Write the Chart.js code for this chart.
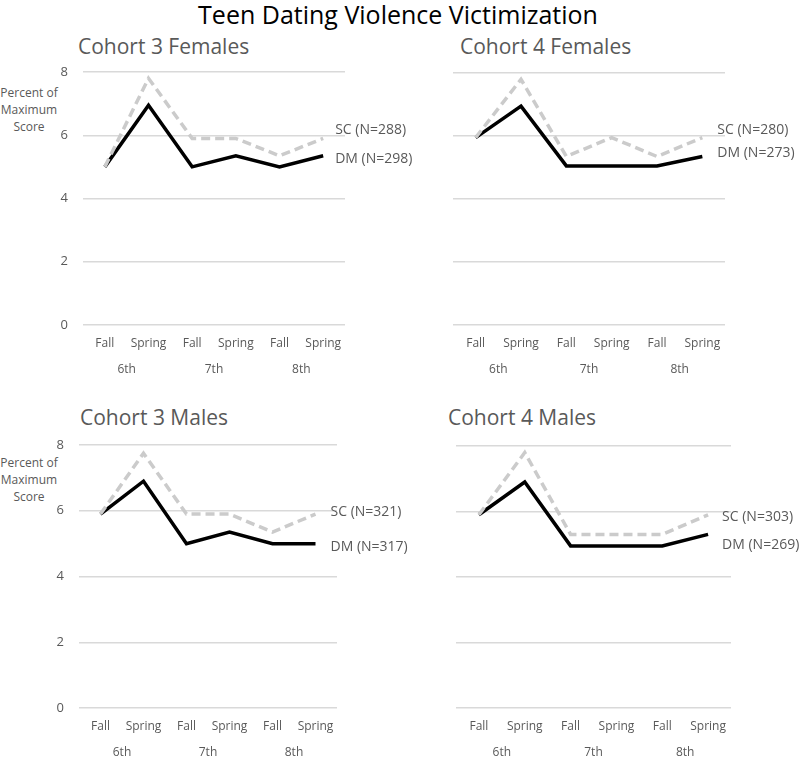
<!DOCTYPE html>
<html lang="en">
<head>
<meta charset="UTF-8">
<title>Teen Dating Violence Victimization</title>
<script src="https://cdn.jsdelivr.net/npm/chart.js"></script>
<style>
  body { margin: 0; background: #fff; font-family: "Open Sans", sans-serif; }
  #wrap { position: relative; width: 800px; height: 768px; overflow: hidden; }
  #wrap canvas { position: absolute; }
  .main-title { position: absolute; left: 0; top: 0; width: 796px; text-align: center; font-size: 25px; color: #000; line-height: 28px; }
  .sub { position: absolute; font-size: 21px; color: #595959; line-height: 24px; white-space: nowrap; }
  .ylab { position: absolute; left: 0; width: 58px; text-align: center; font-size: 12px; line-height: 17px; color: #595959; }
</style>
</head>
<body>
<div id="wrap">
  <div class="main-title">Teen Dating Violence Victimization</div>
  <div class="sub" style="left:78px;top:34px">Cohort 3 Females</div>
  <div class="sub" style="left:460px;top:34px">Cohort 4 Females</div>
  <div class="sub" style="left:80px;top:405px">Cohort 3 Males</div>
  <div class="sub" style="left:448px;top:405px">Cohort 4 Males</div>
  <div class="ylab" style="top:84px">Percent of<br>Maximum<br>Score</div>
  <div class="ylab" style="top:454px">Percent of<br>Maximum<br>Score</div>
  <canvas id="c3f" width="420" height="355" style="left:0;top:30px"></canvas>
  <canvas id="c4f" width="400" height="355" style="left:400px;top:30px"></canvas>
  <canvas id="c3m" width="420" height="368" style="left:0;top:400px"></canvas>
  <canvas id="c4m" width="400" height="368" style="left:400px;top:400px"></canvas>
</div>
<script>
// data
const periods = ['Fall', 'Spring', 'Fall', 'Spring', 'Fall', 'Spring'];
const grades = ['6th', '7th', '8th'];
const yTicks = [0, 2, 4, 6, 8];
const seriesNames = ['SC', 'DM'];

const c3fSC = [5.0, 7.8, 5.9, 5.9, 5.35, 5.9];
const c3fDM = [5.0, 6.95, 5.0, 5.35, 5.0, 5.35];
const c3fN = [288, 298];

const c4fSC = [5.95, 7.8, 5.35, 5.95, 5.35, 5.95];
const c4fDM = [5.95, 6.95, 5.05, 5.05, 5.05, 5.35];
const c4fN = [280, 273];

const c3mSC = [5.9, 7.75, 5.9, 5.9, 5.35, 5.9];
const c3mDM = [5.9, 6.9, 5.0, 5.35, 5.0, 5.0];
const c3mN = [321, 317];

const c4mSC = [5.9, 7.8, 5.3, 5.3, 5.3, 5.9];
const c4mDM = [5.9, 6.9, 4.95, 4.95, 4.95, 5.3];
const c4mN = [303, 269];

const FONT = '"Open Sans", sans-serif';
const GREY = '#595959';

// draws "SC (N=...)" next to the last point of each line
const endLabels = {
    id: 'endLabels',
    afterDatasetsDraw(chart, args, opts) {
        const ctx = chart.ctx;
        ctx.save();
        ctx.font = '14px ' + FONT;
        ctx.fillStyle = GREY;
        ctx.textBaseline = 'middle';
        chart.data.datasets.forEach((ds, i) => {
            const pts = chart.getDatasetMeta(i).data;
            const p = pts[pts.length - 1];
            ctx.fillText(ds.label, p.x + opts.dx, p.y + opts.dy[i]);
        });
        ctx.restore();
    }
};

function makeChart(id, sc, dm, n, lay) {
    const step = yTicks[1] - yTicks[0];
    new Chart(document.getElementById(id), {
        type: 'line',
        data: {
            labels: periods,
            datasets: [
                {
                    label: seriesNames[0] + ' (N=' + n[0] + ')',
                    data: sc,
                    borderColor: '#cbcbcb',
                    borderWidth: 3.5,
                    borderDash: [9, 5],
                    pointRadius: 0,
                    tension: 0
                },
                {
                    label: seriesNames[1] + ' (N=' + n[1] + ')',
                    data: dm,
                    borderColor: '#000',
                    borderWidth: 3.5,
                    pointRadius: 0,
                    tension: 0
                }
            ]
        },
        options: {
            responsive: false,
            animation: false,
            layout: { padding: { top: lay.top, right: lay.right, bottom: 4, left: 0 } },
            plugins: {
                legend: { display: false },
                tooltip: { enabled: false },
                endLabels: { dx: lay.dx, dy: lay.dy }
            },
            scales: {
                x: {
                    weight: 0,
                    offset: true,
                    grid: { display: false, drawTicks: false, offset: true },
                    border: { display: false },
                    ticks: { color: GREY, font: { family: FONT, size: 12 }, padding: 11, maxRotation: 0, autoSkip: false },
                    afterFit: s => { s.height = 26; }
                },
                x2: {
                    type: 'category',
                    labels: grades,
                    position: 'bottom',
                    weight: 1,
                    offset: true,
                    grid: { display: false, drawTicks: false },
                    border: { display: false },
                    ticks: { color: GREY, font: { family: FONT, size: 12 }, padding: 11, maxRotation: 0 },
                    afterFit: s => { s.height = 30; }
                },
                y: {
                    min: yTicks[0],
                    max: yTicks[yTicks.length - 1],
                    grid: { color: '#d9d9d9', lineWidth: 1.5, drawTicks: false },
                    border: { display: false },
                    ticks: {
                        display: lay.showY,
                        stepSize: step,
                        color: lay.showY ? GREY : 'rgba(0,0,0,0)',
                        font: { family: FONT, size: 13 },
                        padding: 15
                    },
                    afterFit: s => { s.width = lay.left; }
                }
            }
        },
        plugins: [endLabels]
    });
}

makeChart('c3f', c3fSC, c3fDM, c3fN, { left: 83, top: 42, right: 75, showY: true, dx: 12, dy: [-8, 3] });
makeChart('c4f', c4fSC, c4fDM, c4fN, { left: 53, top: 43, right: 75, showY: false, dx: 15, dy: [-8, -3] });
makeChart('c3m', c3mSC, c3mDM, c3mN, { left: 79, top: 45, right: 83, showY: true, dx: 15, dy: [-2, 3] });
makeChart('c4m', c4mSC, c4mDM, c4mN, { left: 56, top: 46, right: 69, showY: false, dx: 14, dy: [2, 11] });
</script>
</body>
</html>
